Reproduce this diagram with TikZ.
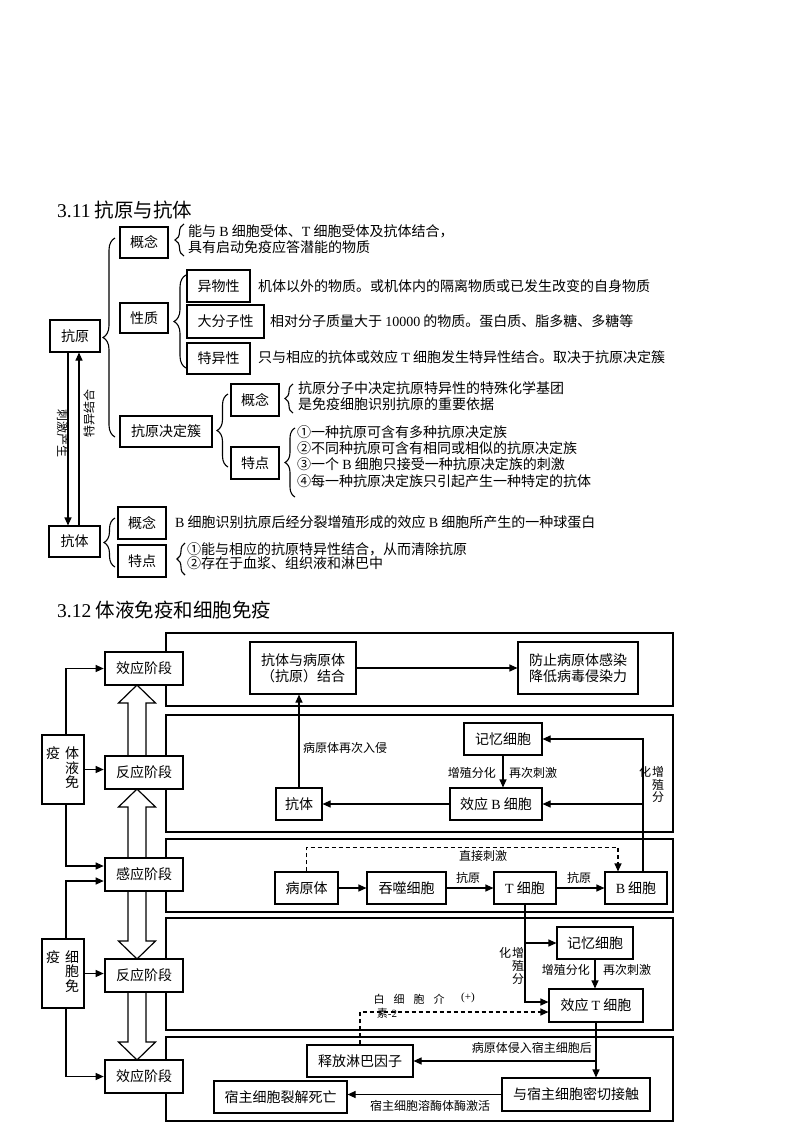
\documentclass[tikz,border=0pt]{standalone}
\usepackage{fontspec}
\setmainfont{Noto Sans CJK SC}
\newfontfamily\lat{Liberation Serif}
\usetikzlibrary{arrows.meta,decorations.pathreplacing,calc}
\begin{document}
\begin{tikzpicture}[x=1pt,y=-1pt,
  every node/.style={font=\fontsize{14pt}{16pt}\selectfont, inner sep=0pt},
  box/.style={draw, line width=1.1pt, align=center},
  stage/.style={draw, line width=2.6pt, fill=white, minimum width=78pt, minimum height=33pt},
  sidebox/.style={draw, line width=2pt, minimum width=42pt, minimum height=69pt},
  frame/.style={draw, line width=2.6pt},
  arr/.style={line width=1.1pt, -{Triangle[length=8pt,width=7pt]}},
  ln/.style={line width=1.1pt},
  dsh/.style={dash pattern=on 4pt off 3pt},
  lbl/.style={font=\fontsize{12pt}{14pt}\selectfont},
  hollow/.style={draw, line width=1.2pt, fill=white},
  br/.style={decorate, decoration={brace, amplitude=#1}, line width=1.1pt},
  ttl/.style={font=\fontsize{19.5pt}{22pt}\selectfont, anchor=west},
  txt/.style={anchor=west, align=left},
]
\useasboundingbox (0,0) rectangle (800,1132);

% ================= 3.11 =================
\node[ttl] (t311) at (57,210) {{\lat 3.11} 抗原与抗体};

\node[box, minimum width=50pt, minimum height=32pt] (yuan) at (75,336) {抗原};
\node[box, minimum width=48pt, minimum height=31pt] (gn1) at (144,242.5) {概念};
\node[box, minimum width=48pt, minimum height=30pt] (xz) at (144,318) {性质};
\node[box, minimum width=63pt, minimum height=32pt] (ywx) at (218.5,286) {异物性};
\node[box, minimum width=77pt, minimum height=33pt] (dfz) at (225.5,321.5) {大分子性};
\node[box, minimum width=63pt, minimum height=31pt] (tyx) at (218.5,358.5) {特异性};
\node[box, minimum width=92pt, minimum height=31pt] (kjd) at (166,431.5) {抗原决定簇};
\node[box, minimum width=48pt, minimum height=32pt] (gn2) at (255,400) {概念};
\node[box, minimum width=48pt, minimum height=32pt] (td2) at (255,463) {特点};
\node[box, minimum width=51pt, minimum height=31pt] (ti) at (74.5,541.5) {抗体};
\node[box, minimum width=48pt, minimum height=32pt] (gn3) at (142,523) {概念};
\node[box, minimum width=48pt, minimum height=32pt] (td3) at (142,561) {特点};

% braces
\draw[br=12pt] (115,437) -- (115,238);
\draw[br=9pt] (184,256) -- (184,224);
\draw[br=12pt] (186,368) -- (186,275);
\draw[br=11pt] (228,467) -- (228,394);
\draw[br=8pt] (293,413) -- (293,384);
\draw[br=10pt] (295,497) -- (295,428);
\draw[br=11pt] (115,567) -- (115,518);
\draw[br=8pt] (185,575) -- (185,543);

% texts
\node[txt] (x1) at (188,239) {能与 {\lat B} 细胞受体、{\lat T} 细胞受体及抗体结合，\\具有启动免疫应答潜能的物质};
\node[txt] (x2) at (258,286) {机体以外的物质。或机体内的隔离物质或已发生改变的自身物质};
\node[txt] (x3) at (270,321) {相对分子质量大于 {\lat 10000} 的物质。蛋白质、脂多糖、多糖等};
\node[txt] (x4) at (258,357) {只与相应的抗体或效应 {\lat T} 细胞发生特异性结合。取决于抗原决定簇};
\node[txt, font=\fontsize{14pt}{15.5pt}\selectfont] (x5) at (298,396) {抗原分子中决定抗原特异性的特殊化学基团\\是免疫细胞识别抗原的重要依据};
\node[txt, font=\fontsize{14pt}{16.3pt}\selectfont] (x6) at (297,456.5) {①一种抗原可含有多种抗原决定族\\②不同种抗原可含有相同或相似的抗原决定族\\③一个 {\lat B} 细胞只接受一种抗原决定族的刺激\\④每一种抗原决定族只引起产生一种特定的抗体};
\node[txt] (x7) at (175,522) {{\lat B} 细胞识别抗原后经分裂增殖形成的效应 {\lat B} 细胞所产生的一种球蛋白};
\node[txt, font=\fontsize{14pt}{14pt}\selectfont] (x8) at (187,556.5) {①能与相应的抗原特异性结合，从而清除抗原\\②存在于血浆、组织液和淋巴中};

% vertical arrows
\draw[arr] ([xshift=-7pt]yuan.south) -- ([xshift=-6.5pt]ti.north);
\draw[arr] ([xshift=4.5pt]ti.north) -- ([xshift=4pt]yuan.south);
\node[lbl, rotate=-90] (l1) at (62.5,433.5) {刺激产生};
\node[lbl, rotate=90] (l2) at (89,413) {特异结合};

% ================= 3.12 =================
\node[ttl] (t312) at (57,610) {{\lat 3.12} 体液免疫和细胞免疫};

% frames
\draw[frame] (166,633) rectangle (673,706);
\draw[frame] (166,715) rectangle (673,832);
\draw[frame] (166,839) rectangle (673,912);
\draw[frame] (166,918) rectangle (673,1030);
\draw[frame] (166,1037) rectangle (673,1121);

% hollow arrows
\draw[hollow] (128,756) -- (128,703) -- (118.5,703) -- (137,685) -- (155.5,703) -- (146,703) -- (146,756) -- cycle;
\draw[hollow] (128,858) -- (128,807) -- (118.5,807) -- (137,789) -- (155.5,807) -- (146,807) -- (146,858) -- cycle;
\draw[hollow] (128,891) -- (128,941) -- (118.5,941) -- (137,959) -- (155.5,941) -- (146,941) -- (146,891) -- cycle;
\draw[hollow] (128,992) -- (128,1042) -- (118.5,1042) -- (137,1060) -- (155.5,1042) -- (146,1042) -- (146,992) -- cycle;

% stage boxes
\node[stage] (s1) at (144,668.5) {效应阶段};
\node[stage] (s2) at (144,772.5) {反应阶段};
\node[stage] (s3) at (144,874.5) {感应阶段};
\node[stage] (s4) at (144,975.5) {反应阶段};
\node[stage] (s5) at (144,1076.5) {效应阶段};

% side boxes
\node[sidebox] (ty) at (63,769.5) {};
\node (ty1) at (53,753) {疫};
\node (ty2) at (72,753) {体};
\node (ty3) at (72,768) {液};
\node (ty4) at (72,782.5) {免};
\node[sidebox] (xb) at (63,973.5) {};
\node (xb1t) at (53,957) {疫};
\node (xb2t) at (72,957) {细};
\node (xb3t) at (72,971.5) {胞};
\node (xb4t) at (72,986) {免};

\draw[arr] ([xshift=3pt]ty.north) |- (s1.west);
\draw[arr] (ty.east) -- (ty.east -| s2.west);
\draw[arr] ([xshift=3pt]ty.south) |- ($(s3.west)+(0,-8.5)$);
\draw[arr] ([xshift=3pt]xb.north) |- ($(s3.west)+(0,6.5)$);
\draw[arr] (xb.east) -- (xb.east -| s4.west);
\draw[arr] ([xshift=3pt]xb.south) |- (s5.west);

% frame 1
\node[box, minimum width=106pt, minimum height=52pt] (kb) at (303,668) {抗体与病原体\\（抗原）结合};
\node[box, minimum width=120pt, minimum height=52pt] (fz) at (578,668) {防止病原体感染\\降低病毒侵染力};
\draw[arr] (kb.east) -- (fz.west);

% frame 2
\node[box, minimum width=78pt, minimum height=32pt] (jy1) at (503,739) {记忆细胞};
\node[box, minimum width=92pt, minimum height=32pt] (xb1) at (496,804) {效应 {\lat B} 细胞};
\node[box, minimum width=46pt, minimum height=32pt] (kt) at (299,804) {抗体};
\draw[arr] (xb1.west) -- (kt.east);
\draw[arr] (kt.north) -- (kt.north |- kb.south);
\draw[arr] (jy1.south) -- (jy1.south |- xb1.north);
\node[lbl, anchor=west] (la1) at (303,748) {病原体再次入侵};
\node[lbl, anchor=east] (la2) at (496,773) {增殖分化};
\node[lbl, anchor=west] (la3) at (509,773) {再次刺激};

% frame 3
\node[box, minimum width=63pt, minimum height=32pt] (byt) at (306.5,888) {病原体};
\node[box, minimum width=79pt, minimum height=32pt] (ts) at (406.5,888) {吞噬细胞};
\node[box, minimum width=62pt, minimum height=32pt] (tc) at (525,888) {{\lat T} 细胞};
\node[box, minimum width=62pt, minimum height=32pt] (bc) at (636,888) {{\lat B} 细胞};
\draw[arr] (byt.east) -- (ts.west);
\draw[arr] (ts.east) -- (tc.west);
\draw[arr] (tc.east) -- (bc.west);
\node[lbl] (la4) at (468,877.5) {抗原};
\node[lbl] (la5) at (579,877.5) {抗原};
\draw[arr, dsh] (byt.north) -- ++(0,-24) -| ([xshift=-18pt]bc.north);
\node[lbl] (la6) at (483,856) {直接刺激};
\draw[arr] ([xshift=7pt]bc.north) |- (jy1.east);
\draw[arr] ([xshift=7pt]bc.north |- xb1.east) -- (xb1.east);
\node[lbl] (la7) at (645,772) {化};
\node[lbl] (la8) at (658,772) {增};
\node[lbl] (la9) at (658,784.5) {殖};
\node[lbl] (la10) at (658,797) {分};

% frame 4
\node[box, minimum width=76pt, minimum height=32pt] (jy2) at (595,943) {记忆细胞};
\node[box, minimum width=94pt, minimum height=33pt] (xt) at (596,1005.5) {效应 {\lat T} 细胞};
\draw[arr] (tc.south) |- ($(xt.west)+(0,-3.5)$);
\draw[arr] (tc.south |- jy2.west) -- (jy2.west);
\draw[arr] (jy2.south) -- (jy2.south |- xt.north);
\node[lbl, anchor=east] (lb1) at (590,970) {增殖分化};
\node[lbl, anchor=west] (lb2) at (603,970) {再次刺激};
\node[lbl] (lb3) at (505,953) {化};
\node[lbl] (lb4) at (518,953) {增};
\node[lbl] (lb5) at (518,966) {殖};
\node[lbl] (lb6) at (518,979) {分};

% frame 5
\node[box, minimum width=106pt, minimum height=32pt] (sf) at (360,1061) {释放淋巴因子};
\node[box, minimum width=148pt, minimum height=33pt] (yz) at (576,1094.5) {与宿主细胞密切接触};
\node[box, minimum width=133pt, minimum height=32pt] (sz) at (280.5,1097) {宿主细胞裂解死亡};
\draw[arr] (xt.south) -- (xt.south |- yz.north);
\draw[arr] (xt.south |- sf.east) -- (sf.east);
\draw[arr] (yz.west) -- (yz.west -| sz.east);
\node[lbl, anchor=east] (lc1) at (592,1048) {病原体侵入宿主细胞后};
\node[lbl] (lc2) at (430,1106) {宿主细胞溶酶体酶激活};

\draw[arr, dsh] (sf.north) |- ($(xt.west)+(0,6.5)$);
\node[lbl, font=\fontsize{11pt}{13pt}\selectfont] (lc3) at (379,999) {白};
\node[lbl, font=\fontsize{11pt}{13pt}\selectfont] (lc4) at (399,999) {细};
\node[lbl, font=\fontsize{11pt}{13pt}\selectfont] (lc5) at (419,999) {胞};
\node[lbl, font=\fontsize{11pt}{13pt}\selectfont] (lc6) at (439,999) {介};
\node[lbl, font=\fontsize{11pt}{13pt}\selectfont] (lc7) at (468,998) {\lat (+)};
\node[lbl, font=\fontsize{11pt}{13pt}\selectfont] (lc8) at (387,1013) {素{\lat -2}};
\end{tikzpicture}
\end{document}
